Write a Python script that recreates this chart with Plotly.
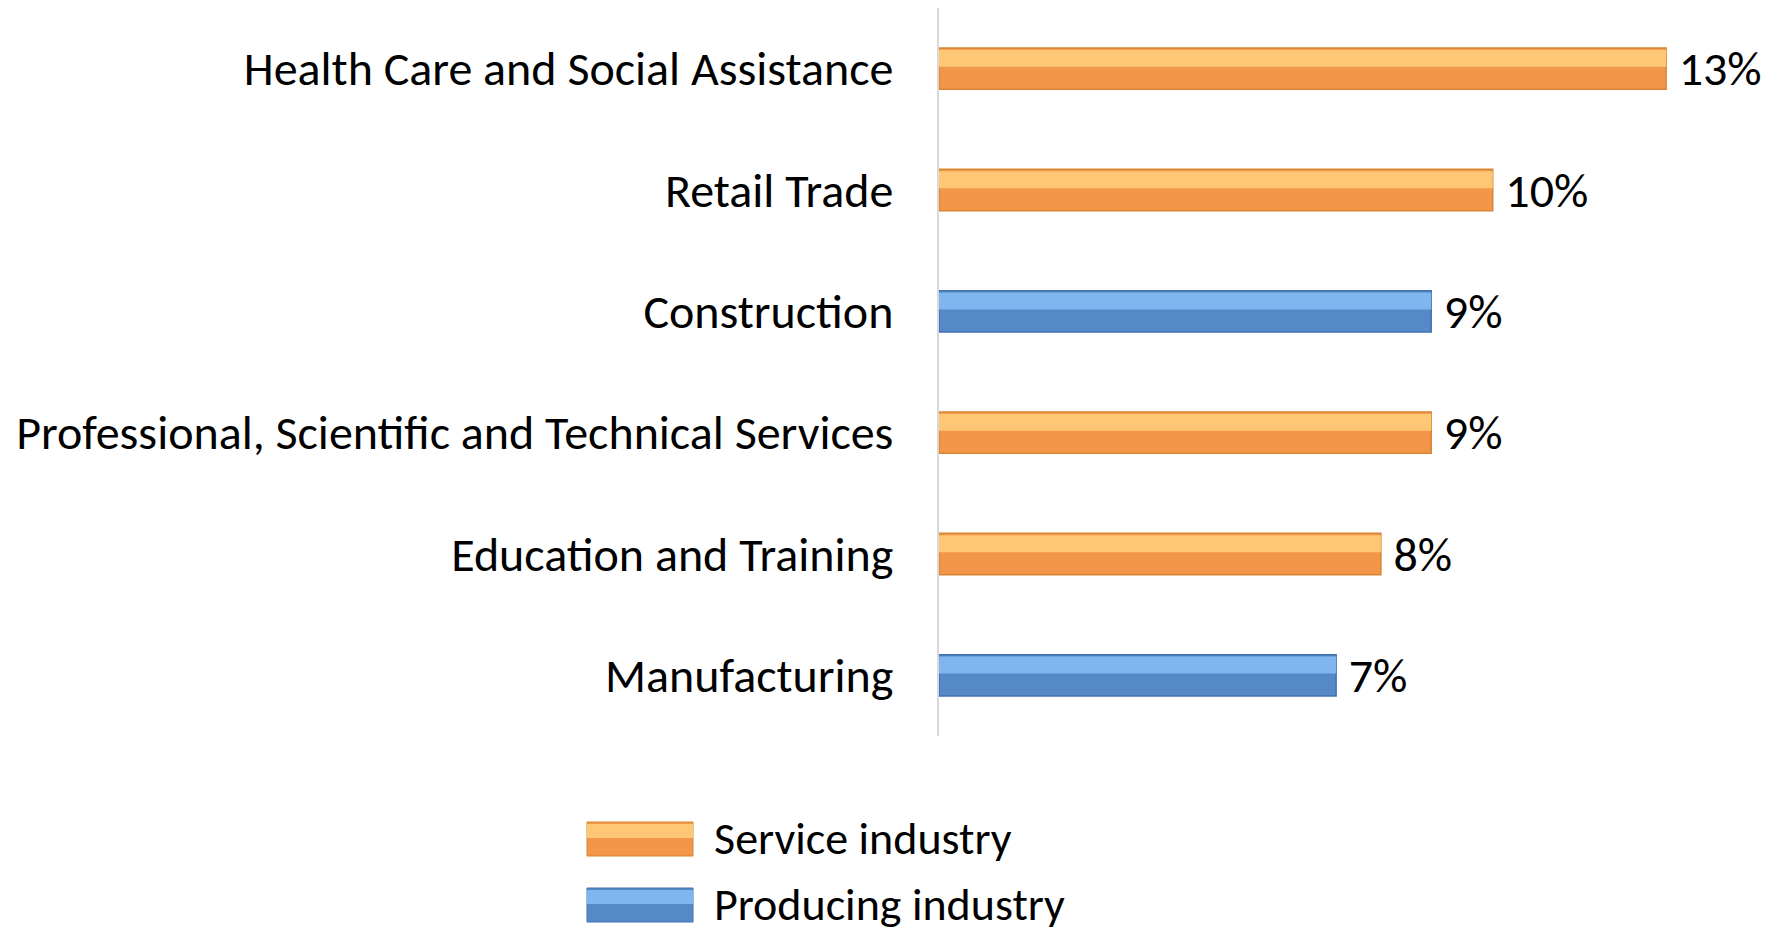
import plotly.graph_objects as go

# data (categories listed bottom to top)
categories = ["Manufacturing", "Education and Training",
              "Professional, Scientific and Technical Services",
              "Construction", "Retail Trade", "Health Care and Social Assistance"]
shares = [7.1, 7.9, 8.8, 8.8, 9.9, 13.0]
sector = ["Producing", "Service", "Service", "Producing", "Service", "Service"]

series_names = {"Service": "Service industry", "Producing": "Producing industry"}
colors = {
    "Service": dict(dark="#F2964A", light="#FDC775", line="#D98533"),
    "Producing": dict(dark="#5689C8", light="#7FB6F0", line="#4372AE"),
}

# page has an 8px body margin, so the figure is a bit smaller than the window
W, H = 1770, 930
ML, MR, MT, MB = 931, 0, 0, 202
FONT = "Carlito, Lato, sans-serif"
FS = 48

fig = go.Figure()
for key in ["Service", "Producing"]:
    ys = [c for c, s in zip(categories, sector) if s == key]
    xs = [v for v, s in zip(shares, sector) if s == key]
    c = colors[key]
    fig.add_trace(go.Bar(
        y=ys, x=xs, orientation="h", name=series_names[key],
        width=0.34, offset=-0.17,
        marker=dict(color=c["dark"], line=dict(color=c["line"], width=1.5)),
        texttemplate="\u2009%{x:.0f}%", textposition="outside",
        constraintext="none",
        textfont=dict(family=FONT, size=FS, color="black"),
        cliponaxis=False, showlegend=False,
    ))
    # lighter upper half for the bevelled look
    fig.add_trace(go.Bar(
        y=ys, x=xs, orientation="h", width=0.14, offset=0.015,
        marker=dict(color=c["light"], line=dict(width=0)),
        hoverinfo="skip", showlegend=False,
    ))

fig.update_layout(
    width=W, height=H, barmode="overlay",
    margin=dict(l=ML, r=MR, t=MT, b=MB, autoexpand=False),
    paper_bgcolor="white", plot_bgcolor="white",
    font=dict(family=FONT, size=FS, color="black"),
    xaxis=dict(range=[0, 15], visible=False, automargin=False),
    yaxis=dict(categoryorder="array", categoryarray=categories,
               showline=True, linecolor="#D9D9D9", linewidth=2,
               showgrid=False, ticks="", ticklabelstandoff=34,
               automargin=False,
               tickfont=dict(family=FONT, size=FS, color="black")),
)

# custom legend with large swatches (figure pixel positions)
pw, ph = W - ML - MR, H - MT - MB
def px(x):
    return (x - ML) / pw
def py(y):
    return (H - MB - y) / ph

for i, key in enumerate(["Service", "Producing"]):
    c = colors[key]
    top = 814 + i * 66
    fig.add_shape(type="rect", xref="paper", yref="paper",
                  x0=px(579), x1=px(685), y0=py(top + 34), y1=py(top),
                  fillcolor=c["dark"], line=dict(color=c["line"], width=1))
    fig.add_shape(type="rect", xref="paper", yref="paper",
                  x0=px(579), x1=px(685), y0=py(top + 16), y1=py(top + 2),
                  fillcolor=c["light"], line=dict(width=0))
    fig.add_annotation(text=series_names[key], xref="paper", yref="paper",
                       x=px(704), y=py(top + 16), xanchor="left", yanchor="middle",
                       showarrow=False, font=dict(family=FONT, size=FS - 2, color="black"))

fig.write_html("out.html")
